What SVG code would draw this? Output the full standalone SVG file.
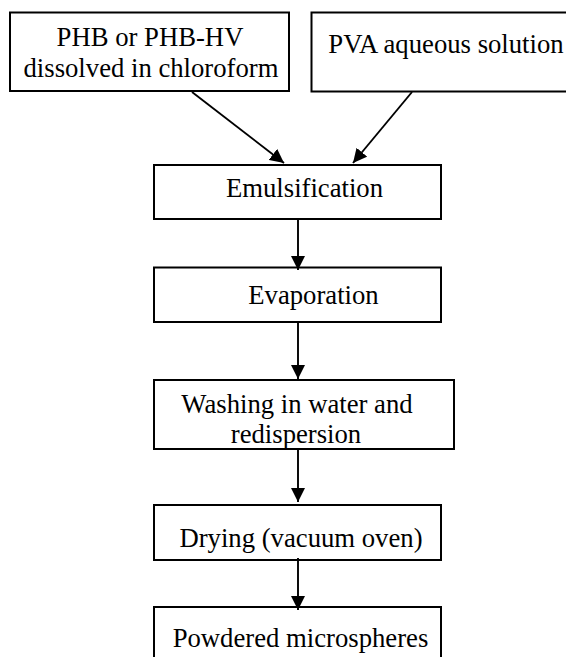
<svg xmlns="http://www.w3.org/2000/svg" width="566" height="657" viewBox="0 0 566 657">
<defs>
<style>
.box{fill:#fff;stroke:#000;stroke-width:2}
.t{font-family:"Liberation Serif","Times New Roman",serif;font-size:26.7px;fill:#000;text-anchor:middle}
.c{stroke:#000;stroke-width:1.9;fill:none;marker-end:url(#ah)}
</style>
<marker id="ah" markerUnits="userSpaceOnUse" markerWidth="14" markerHeight="14" refX="14" refY="7" orient="auto" viewBox="0 0 14 14">
<path d="M0,0 L14,7 L0,14 z" fill="#000"/>
</marker>
</defs>
<rect width="566" height="657" fill="#fff"/>
<g id="phb">
<rect class="box" x="10" y="12.5" width="279" height="78.5"/>
<text class="t" x="150" y="46">PHB or PHB-HV</text>
<text class="t" x="151" y="76.5">dissolved in chloroform</text>
</g>
<g id="pva">
<rect class="box" x="311.5" y="12.5" width="280" height="79"/>
<text class="t" x="446" y="53">PVA aqueous solution</text>
</g>
<g id="emulsification">
<rect class="box" x="154" y="165" width="287" height="54"/>
<text class="t" x="304.5" y="197">Emulsification</text>
</g>
<g id="evaporation">
<rect class="box" x="154" y="267.5" width="287" height="54.5"/>
<text class="t" x="313.5" y="304">Evaporation</text>
</g>
<g id="washing">
<rect class="box" x="154" y="380" width="300" height="69"/>
<text class="t" x="297" y="413">Washing in water and</text>
<text class="t" x="296" y="443">redispersion</text>
</g>
<g id="drying">
<rect class="box" x="154" y="505" width="287" height="55"/>
<text class="t" x="301" y="547">Drying (vacuum oven)</text>
</g>
<g id="powdered">
<rect class="box" x="154" y="607" width="287" height="70"/>
<text class="t" x="300.5" y="647">Powdered microspheres</text>
</g>
<g id="connectors">
<line class="c" x1="192" y1="92" x2="284" y2="163"/>
<line class="c" x1="412" y1="92" x2="353" y2="163"/>
<line class="c" x1="298" y1="219" x2="298" y2="270"/>
<line class="c" x1="298" y1="322" x2="298" y2="379"/>
<line class="c" x1="298" y1="449" x2="298" y2="502"/>
<line class="c" x1="298" y1="558" x2="298" y2="610"/>
</g>
</svg>
